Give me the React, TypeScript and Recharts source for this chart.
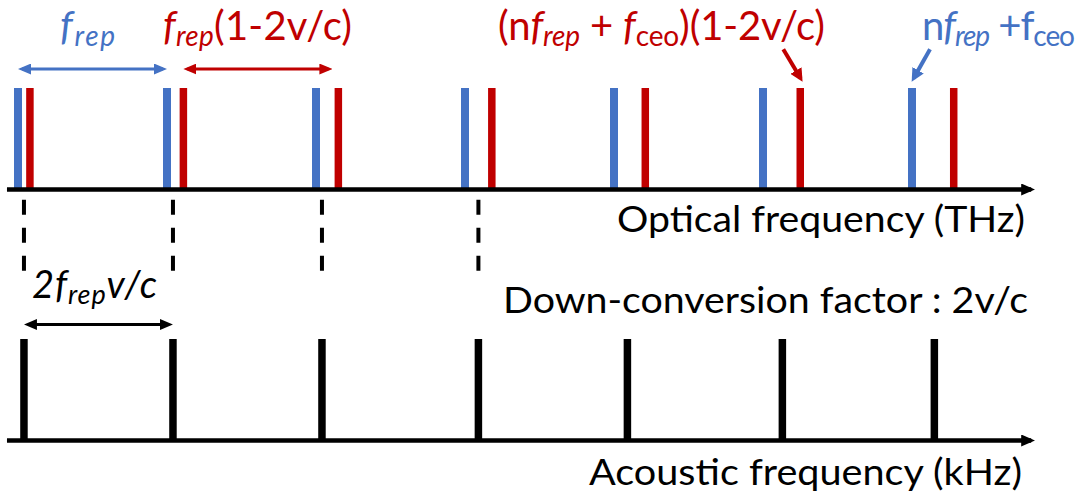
import React from 'react'
import { ComposedChart, XAxis, YAxis, ReferenceLine } from 'recharts'

// comb teeth, in units of the blue tooth spacing (f_rep); blue tooth n sits at n
const opticalBlue = [0, 1, 2, 3, 4, 5, 6]
const opticalRed = [0.08, 1.11, 2.15, 3.18, 4.21, 5.25, 6.28]
const acoustic = [0.04, 1.04, 2.04, 3.09, 4.09, 5.13, 6.15]
// acoustic teeth that get a dashed guide up under the optical axis
const guided = [0, 1, 2, 3]

const toothHeight = 1
const axisRange = [-0.074, 6.8]
// spans marked with double arrows, and the amplitude they sit at
const frepSpan = [0, 1]
const shiftedSpan = [1.11, 2.11]
const acousticSpan = [0.04, 1.04]
const spanLevelTop = 1.187
const spanLevelBottom = 1.143
// pointer arrows: [tail, end] as [f, amplitude]
const redPointer = [[5.136, 1.381], [5.252, 1.096]]
const bluePointer = [[6.121, 1.381], [6.011, 1.097]]
// dashed guides, amplitude range below the optical axis
const guideRange = [-0.1, -0.82]

const W = 1086
const H = 501
const BLUE = '#4472C4'
const RED = '#C00000'
const FONT = "Lato, 'Open Sans', sans-serif"
const PX_PER_F = 149 // only used to pull arrow shafts back under their heads
const HEAD_INSET = 4 / PX_PER_F

function Markers() {
  const head = (id: string, color: string, len: number, half: number) => (
    <marker
      id={id}
      viewBox={`0 0 ${len} ${half * 2}`}
      refX={len - 4}
      refY={half}
      markerWidth={len}
      markerHeight={half * 2}
      markerUnits="userSpaceOnUse"
      orient="auto-start-reverse"
    >
      <path d={`M0,0 L${len},${half} L0,${half * 2} z`} fill={color} />
    </marker>
  )
  return (
    <svg width={0} height={0} style={{ position: 'absolute' }}>
      <defs>
        {head('ah-axis', '#000', 14, 6)}
        {head('ah-blue', BLUE, 13, 5.5)}
        {head('ah-red', RED, 13, 5.5)}
        {head('ah-black', '#000', 13, 5.5)}
        {head('ah-red-p', RED, 13, 6.5)}
        {head('ah-blue-p', BLUE, 13, 6.5)}
      </defs>
    </svg>
  )
}

const teeth = (xs: number[], color: string, w: number, key: string) =>
  xs.map((f, i) => (
    <ReferenceLine
      key={key + i}
      segment={[{ x: f, y: 0 }, { x: f, y: toothHeight }]}
      stroke={color}
      strokeWidth={w}
      ifOverflow="visible"
    />
  ))

const span = (s: number[], level: number, color: string, marker: string, key: string) => (
  <ReferenceLine
    key={key}
    segment={[{ x: s[0] + HEAD_INSET, y: level }, { x: s[1] - HEAD_INSET, y: level }]}
    stroke={color}
    strokeWidth={3}
    markerStart={`url(#${marker})`}
    markerEnd={`url(#${marker})`}
    ifOverflow="visible"
  />
)

const pointer = (p: number[][], color: string, marker: string, key: string) => (
  <ReferenceLine
    key={key}
    segment={[{ x: p[0][0], y: p[0][1] }, { x: p[1][0], y: p[1][1] }]}
    stroke={color}
    strokeWidth={4}
    markerEnd={`url(#${marker})`}
    ifOverflow="visible"
  />
)

const axis = (
  <ReferenceLine
    segment={[{ x: axisRange[0], y: 0 }, { x: axisRange[1], y: 0 }]}
    stroke="#000"
    strokeWidth={4.3}
    markerEnd="url(#ah-axis)"
    ifOverflow="visible"
  />
)

function Comb({ top, bottom, children }: { top: number; bottom: number; children: React.ReactNode }) {
  return (
    <div style={{ position: 'absolute', left: 0, top: 0 }}>
      <ComposedChart
        width={W}
        height={H}
        data={opticalBlue.map((f) => ({ f }))}
        margin={{ top, bottom, left: 18, right: 174 }}
      >
        <XAxis type="number" dataKey="f" domain={[0, 6]} allowDataOverflow hide />
        <YAxis type="number" domain={[0, 1]} allowDataOverflow hide />
        {children}
      </ComposedChart>
    </div>
  )
}

function Labels() {
  const big = 40
  const sub = 28
  return (
    <svg
      width={W}
      height={H}
      style={{ position: 'absolute', left: 0, top: 0, pointerEvents: 'none' }}
      fontFamily={FONT}
    >
      <text x={60} y={40} fill={BLUE} fontSize={big} fontStyle="italic" textLength={55}>
        <tspan>f</tspan>
        <tspan fontSize={sub} dy={6}>rep</tspan>
      </text>
      <text x={163} y={40} fill={RED} fontSize={big} textLength={189}>
        <tspan fontStyle="italic">f</tspan>
        <tspan fontStyle="italic" fontSize={sub} dy={6}>rep</tspan>
        <tspan dy={-6}>(1-2v/c)</tspan>
      </text>
      <text x={498} y={40} fill={RED} fontSize={big} textLength={327}>
        <tspan>(n</tspan>
        <tspan fontStyle="italic">f</tspan>
        <tspan fontStyle="italic" fontSize={sub} dy={6}>rep</tspan>
        <tspan dy={-6}> + </tspan>
        <tspan fontStyle="italic">f</tspan>
        <tspan fontSize={sub} dy={6}>ceo</tspan>
        <tspan dy={-6}>)(1-2v/c)</tspan>
      </text>
      <text x={922} y={40} fill={BLUE} fontSize={big} textLength={153}>
        <tspan>n</tspan>
        <tspan fontStyle="italic">f</tspan>
        <tspan fontStyle="italic" fontSize={sub} dy={6}>rep</tspan>
        <tspan dy={-6}> +f</tspan>
        <tspan fontSize={sub} dy={6}>ceo</tspan>
      </text>
      <text x={32} y={298} fill="#000" fontSize={38} fontStyle="italic" textLength={125}>
        <tspan>2f</tspan>
        <tspan fontSize={27} dy={6}>rep</tspan>
        <tspan dy={-6}>v/c</tspan>
      </text>
      <text x={617} y={232} fill="#000" fontSize={37} textLength={408} lengthAdjust="spacingAndGlyphs">
        Optical frequency (THz)
      </text>
      <text x={503} y={313} fill="#000" fontSize={37} textLength={525} lengthAdjust="spacingAndGlyphs">
        Down-conversion factor : 2v/c
      </text>
      <text x={589} y={485} fill="#000" fontSize={37} textLength={433} lengthAdjust="spacingAndGlyphs">
        Acoustic frequency (kHz)
      </text>
    </svg>
  )
}

export default function App() {
  return (
    <div style={{ position: 'absolute', left: 0, top: 0, width: W, height: H, background: '#fff' }}>
      <Markers />
      <Comb top={339} bottom={60.5}>
        {teeth(acoustic, '#000', 7.5, 'a')}
        {axis}
        {span(acousticSpan, spanLevelBottom, '#000', 'ah-black', 'sa')}
      </Comb>
      <Comb top={88} bottom={311.5}>
        {teeth(opticalBlue, BLUE, 8, 'b')}
        {teeth(opticalRed, RED, 7.5, 'r')}
        {axis}
        {guided.map((i) => (
          <ReferenceLine
            key={'g' + i}
            segment={[{ x: acoustic[i], y: guideRange[0] }, { x: acoustic[i], y: guideRange[1] }]}
            stroke="#000"
            strokeWidth={4}
            strokeDasharray="15 13"
            ifOverflow="visible"
          />
        ))}
        {span(frepSpan, spanLevelTop, BLUE, 'ah-blue', 'sb')}
        {span(shiftedSpan, spanLevelTop, RED, 'ah-red', 'sr')}
        {pointer(redPointer, RED, 'ah-red-p', 'pr')}
        {pointer(bluePointer, BLUE, 'ah-blue-p', 'pb')}
      </Comb>
      <Labels />
    </div>
  )
}
